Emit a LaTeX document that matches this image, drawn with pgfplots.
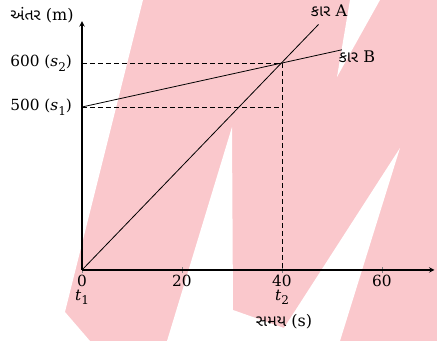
\documentclass[border=0pt]{standalone}
\usepackage{pgfplots}
\pgfplotsset{compat=1.18}
\usepackage{fontspec}
\setmainfont{DejaVu Serif}
\newfontfamily\gujfont[Script=Gujarati]{Noto Sans Gujarati UI}
\definecolor{wmpink}{RGB}{250,200,204}
\newcommand\lbl{\fontsize{11.5}{13}\selectfont}
\newcommand\sub[2]{\textit{#1}\raisebox{-0.3em}{\small #2}}

\begin{document}
\begin{tikzpicture}
% watermark behind the chart (pixel grid of the original, origin at top left)
\begin{scope}[x=0.75pt,y=-0.75pt,shift={(-82,-270)}]
  \fill[wmpink] (0,0) rectangle (437,341);
  \fill[white] (0,0) -- (143,0) -- (65,312) -- (90,341) -- (0,341) -- cycle;
  \fill[white] (232,127) -- (233,310) -- (284,328) -- (400,148) -- (340,341) -- (167,341) -- cycle;
  \fill[white] (350,0) -- (380,0) -- (337,77) -- cycle;
\end{scope}

\begin{axis}[
    x=3.75pt, y=0.75pt,
    % the y axis of the drawing is not to scale: 0-500 is squeezed
    y coord trafo/.code={\pgfmathparse{#1<=500 ? 0.326*#1 : 163+0.44*(#1-500)}},
    xmin=0, xmax=70.5,
    ymin=0, ymax=695,
    enlargelimits=false,
    axis lines=left,
    axis line style={line width=0.8pt, -stealth},
    xtick={0,20,40,60},
    xticklabels={{0\\[-3pt]\sub{t}{1}},20,{40\\[-3pt]\sub{t}{2}},60},
    xticklabel style={align=center, font=\lbl, inner sep=2pt},
    ytick={500,600},
    yticklabels={{500 (\sub{s}{1})},{600 (\sub{s}{2})}},
    yticklabel style={font=\lbl, xshift=-2pt},
    ytick style={draw=none},
    xtick style={line width=0.6pt},
    major tick length=4pt,
    tick align=center,
    clip=false,
]
\addplot[black, line width=0.6pt, mark=none] coordinates {(0,0) (47.3,687.5)};
\addplot[black, line width=0.6pt, mark=none] coordinates {(0,500) (52,630)};
\addplot[black, line width=0.6pt, mark=none, dash pattern=on 3.5pt off 2.5pt] coordinates {(0,600) (40,600) (40,0)};
\addplot[black, line width=0.6pt, mark=none, dash pattern=on 3.5pt off 2.5pt] coordinates {(0,500) (39.5,500)};
\end{axis}

\begin{scope}[x=0.75pt,y=-0.75pt,shift={(-82,-270)}]
  \node[font=\large] at (42,15) {{\gujfont અંતર} (m)};
  \node[font=\large] at (284,322) {{\gujfont સમય} (s)};
  \node[font=\large] at (329,11) {{\gujfont કાર} A};
  \node[font=\large] at (357,57) {{\gujfont કાર} B};
\end{scope}
\pgfresetboundingbox
\path (-61.5pt,202.5pt) rectangle (266.25pt,-53.25pt);
\end{tikzpicture}
\end{document}
